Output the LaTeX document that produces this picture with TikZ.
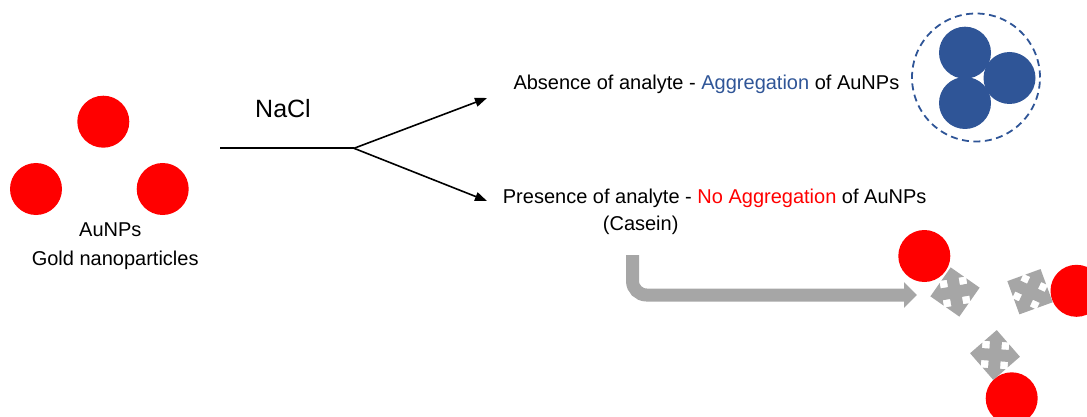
\documentclass[tikz,border=0pt]{standalone}
\usepackage{fontspec}
\setmainfont{Liberation Sans}
\usetikzlibrary{arrows.meta}
\definecolor{aured}{HTML}{FF0000}
\definecolor{aggblue}{HTML}{2F5597}
\definecolor{flowgrey}{HTML}{A6A6A6}
\tikzset{
  np/.style={circle, fill=aured, draw=none, minimum size=52pt, inner sep=0pt},
  aggnp/.style={np, fill=aggblue},
  lbl/.style={inner sep=0pt, font=\fontsize{20}{24}\selectfont},
  branch/.style={line width=1.6pt, -{Triangle[length=12pt,width=9pt]}},
  flow/.style={flowgrey, line width=13pt, rounded corners=14pt, -{Triangle[length=13pt,width=25pt]}},
  shell/.style={aggblue, line width=1.8pt, dash pattern=on 7pt off 4.5pt},
  % four-way "move" symbol: a cross with a wide arrowhead on each arm
  moveicon/.pic={
    \foreach \a in {0,90,180,270}
      \fill[flowgrey, rotate=\a] (0,-6) -- (13.5,-6) -- (13.5,-11.5) -- (25,0) -- (13.5,11.5) -- (13.5,6) -- (0,6) -- cycle;
  }
}
\begin{document}
\begin{tikzpicture}[x=1pt,y=1pt]
\useasboundingbox (0,0) rectangle (1087,-417);
\clip (0,0) rectangle (1087,-417);

% starting gold nanoparticles
\node[np] (l1) at (103.3,-121.7) {};
\node[np] (l2) at (36,-189) {};
\node[np] (l3) at (162.7,-189) {};
\node[lbl, anchor=base] (aunps) at (110.3,-236.7) {AuNPs};
\node[lbl, anchor=base] (gold) at (115.2,-265) {Gold nanoparticles};

% salt addition and the two outcomes
\node[lbl, anchor=base west, font=\fontsize{25}{30}\selectfont] (nacl) at (255,-117.7) {NaCl};
\coordinate (start) at (220,-148.3);
\coordinate (split) at (354,-148.3);
\coordinate (upTip) at (487,-98);
\coordinate (downTip) at (487,-201);
\draw[line width=1.6pt] (start) -- (split);
\draw[branch] (split) -- (upTip);
\draw[branch] (split) -- (downTip);

\node[lbl, anchor=base west] (absence) at (513.3,-90)
  {Absence of analyte - \textcolor{aggblue}{Aggregation} of AuNPs};
\node[lbl, anchor=base west] (presence) at (502.7,-204)
  {Presence of analyte - \textcolor{aured}{No Aggregation} of AuNPs};
\node[lbl, anchor=base west] (casein) at (602.7,-230) {(Casein)};

% aggregated cluster
\node[aggnp] (a1) at (965,-52.7) {};
\node[aggnp] (a2) at (1009.5,-78) {};
\node[aggnp] (a3) at (965,-103) {};
\draw[shell] (976,-77.5) circle (64pt);

% dispersed particles
\coordinate (bendStart) at (632.5,-255);
\coordinate (bendEnd) at (917,-295);
\draw[flow] (bendStart) |- (bendEnd);

\node[np] (f1) at (924.3,-256) {};
\node[np] (f2) at (1076.5,-290.8) {};
\node[np] (f3) at (1011.7,-398.3) {};
\pic[rotate=10] at (955,-292) {moveicon};
\pic[rotate=-25] at (1030,-291.7) {moveicon};
\pic[rotate=-4] at (995,-355) {moveicon};
\end{tikzpicture}
\end{document}
